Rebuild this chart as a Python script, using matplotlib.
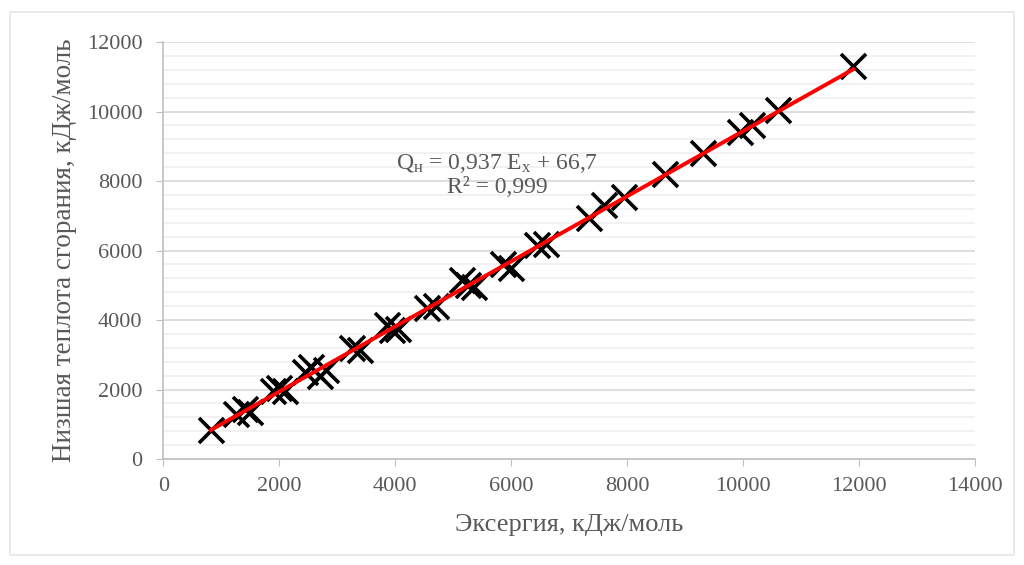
import numpy as np
import matplotlib
matplotlib.use("Agg")
import matplotlib.pyplot as plt
from matplotlib.ticker import MultipleLocator
from matplotlib.patches import Rectangle

plt.rcParams['font.family'] = ['Liberation Serif', 'DejaVu Serif']
plt.rcParams['mathtext.fontset'] = 'custom'
plt.rcParams['mathtext.rm'] = 'Liberation Serif'
plt.rcParams['mathtext.it'] = 'Liberation Serif:italic'

# эксергия и низшая теплота сгорания, кДж/моль
eksergiya = [820, 1250, 1400, 1500, 1900, 2000, 2100, 2450, 2550, 2700, 2800,
             3250, 3400, 3850, 3950, 4050, 4550, 4700, 5150, 5250, 5350,
             5850, 6000, 6450, 6600, 7350, 7600, 7950, 8650, 9300, 9950,
             10150, 10600, 11900]
teplota = [830, 1300, 1450, 1350, 1950, 2050, 1950, 2500, 2650, 2400, 2550,
           3200, 3150, 3850, 3700, 3750, 4350, 4400, 5150, 5000, 4950,
           5600, 5500, 6150, 6200, 6950, 7300, 7550, 8200, 8800, 9400,
           9600, 10050, 11300]

# линия тренда
k_tr = 0.937
b_tr = 66.7

gray_txt = '#595959'

fig = plt.figure(figsize=(10.24, 5.65), dpi=100)
ax = fig.add_axes([0.1595, 0.1876, 0.7927, 0.738])

# рамка диаграммы
fig.patches.append(Rectangle((0.01, 0.018), 0.98, 0.96, transform=fig.transFigure,
                             fill=False, edgecolor='#e6e6e6', lw=1.2))

ax.plot(eksergiya, teplota, linestyle='none', marker='x', color='black',
        markersize=18, markeredgewidth=2.6, zorder=3)

xt = np.array([min(eksergiya), max(eksergiya)])
ax.plot(xt, k_tr * xt + b_tr, color='#ff0000', lw=2.8, zorder=4)

ax.set_xlim(0, 14000)
ax.set_ylim(0, 12000)
ax.xaxis.set_major_locator(MultipleLocator(2000))
ax.yaxis.set_major_locator(MultipleLocator(2000))
ax.yaxis.set_minor_locator(MultipleLocator(400))

ax.grid(axis='y', which='major', color='#d9d9d9', lw=1.2, zorder=0)
ax.grid(axis='y', which='minor', color='#efefef', lw=1.2, zorder=0)
ax.set_axisbelow(True)

for s in ['top', 'right']:
    ax.spines[s].set_visible(False)
for s in ['left', 'bottom']:
    ax.spines[s].set_color('#bfbfbf')
    ax.spines[s].set_linewidth(1.2)

ax.tick_params(which='major', direction='out', length=5, color='#bfbfbf',
               labelsize=16, labelcolor=gray_txt)
ax.tick_params(axis='y', pad=10)
ax.tick_params(axis='x', pad=8)
ax.tick_params(which='minor', length=0)

ax.set_xlabel('Эксергия, кДж/моль', fontsize=19, color=gray_txt, labelpad=13)
ax.set_ylabel('Низшая теплота сгорания, кДж/моль', fontsize=19.5, color=gray_txt, labelpad=7)

ax.text(0.411, 0.681, 'Q$_\\mathrm{н}$ = 0,937 E$_\\mathrm{x}$ + 66,7\nR² = 0,999',
        transform=ax.transAxes, ha='center', va='center', fontsize=17,
        color=gray_txt, linespacing=1.1)

fig.savefig('out.png', dpi=100)
